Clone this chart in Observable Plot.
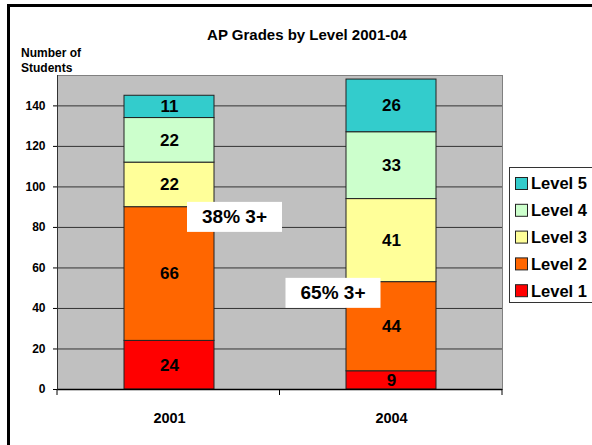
<!DOCTYPE html>
<html>
<head>
<meta charset="utf-8">
<script src="https://cdn.jsdelivr.net/npm/d3@7"></script>
<script src="https://cdn.jsdelivr.net/npm/@observablehq/plot@0.6"></script>
<style>
  html, body { margin: 0; padding: 0; background: white; }
  svg text { font-weight: bold; }
</style>
</head>
<body>
<div id="chart"></div>
<script>
// ---- data ----
const years = ["2001", "2004"];
const levels = ["Level 1", "Level 2", "Level 3", "Level 4", "Level 5"];
const levelColors = ["#ff0000", "#ff6600", "#ffff99", "#ccffcc", "#33cccc"];
const counts2001 = [24, 66, 22, 22, 11];
const counts2004 = [9, 44, 41, 33, 26];
const yTicks = [0, 20, 40, 60, 80, 100, 120, 140];
const chartTitle = "AP Grades by Level 2001-04";
const yTitle = ["Number of", "Students"];
const annoText = ["38% 3+", "65% 3+"];
const annoX = ["2001", "2004"];
const annoY = [85, 47.5];
const annoDx = [65, -58.5];

const countsByYear = [counts2001, counts2004];
const data = years.flatMap((yr, i) =>
  levels.map((lv, j) => ({year: yr, level: lv, value: countsByYear[i][j]})));

const W = 592, H = 445;
const font = "'Liberation Sans', Arial, Helvetica, sans-serif";

const plot = Plot.plot({
  width: W, height: H,
  marginLeft: 57, marginRight: 90, marginTop: 75, marginBottom: 56,
  style: {fontFamily: font, background: "white", overflow: "visible", color: "black"},
  x: {domain: years, paddingInner: 0.596, paddingOuter: 0.298, axis: null},
  y: {domain: [0, 155], axis: null},
  color: {domain: levels, range: levelColors},
  marks: [
    Plot.frame({fill: "#c0c0c0", stroke: "#808080"}),
    Plot.ruleY(yTicks.filter(d => d > 0), {stroke: "#333", strokeWidth: 1}),
    Plot.barY(data, {x: "year", y: "value", fill: "level", stroke: "#222", strokeWidth: 1}),
    Plot.text(data, Plot.stackY({x: "year", y: "value", z: "level", text: d => String(d.value), fontSize: 17, fill: "black"})),
    Plot.ruleY([0], {stroke: "black", strokeWidth: 1.5}),
    Plot.frame({anchor: "left", stroke: "#333"}),
    Plot.axisY({ticks: yTicks, tickSize: 4, tickPadding: 8, fontSize: 12, label: null, stroke: "black"}),
    Plot.axisX({tickSize: 0, tickPadding: 23, fontSize: 14.5, label: null}),
    ...annoText.map((t, i) => Plot.text([i], {
      x: () => annoX[i], y: () => annoY[i], text: () => t,
      dx: annoDx[i], fontSize: 19, fill: "black"
    }))
  ]
});

document.getElementById("chart").appendChild(plot);
const svg = d3.select(plot);

// white boxes behind annotations
svg.selectAll("text").filter(function() { return annoText.includes(this.textContent); }).each(function() {
  const b = this.getBBox();
  const m = this.getCTM && this.getCTM();
  let cx = b.x + b.width / 2, cy = b.y + b.height / 2;
  const parent = this.parentNode;
  d3.select(parent).insert("rect", () => this)
    .attr("x", cx - 47.5).attr("y", cy - 15)
    .attr("width", 95).attr("height", 30)
    .attr("fill", "white")
    .attr("transform", this.getAttribute("transform"));
});

// category-boundary ticks on the x axis
const xs = plot.scale("x");
const yS = plot.scale("y");
const x0 = xs.range[0], x1 = xs.range[1];
const y0 = yS.apply(0);
[x0, (x0 + x1) / 2, x1].forEach(x => {
  svg.append("line").attr("x1", x).attr("x2", x).attr("y1", y0).attr("y2", y0 + 6)
    .attr("stroke", "black").attr("stroke-width", 1);
});

// title
svg.append("text").attr("x", 307).attr("y", 39.5).attr("text-anchor", "middle")
  .attr("font-size", 15).attr("font-family", font).text(chartTitle);

// y-axis title
yTitle.forEach((t, i) => {
  svg.append("text").attr("x", 21).attr("y", 56.5 + i * 15.5).attr("text-anchor", "start")
    .attr("font-size", 12).attr("font-family", font).text(t);
});

// legend
const lg = svg.append("g").attr("text-anchor", "start");
lg.append("rect").attr("x", 509.5).attr("y", 167.5).attr("width", 120).attr("height", 135)
  .attr("fill", "white").attr("stroke", "#333").attr("stroke-width", 1);
const order = levels.slice().reverse();
order.forEach((lv, i) => {
  const cy = 183.5 + i * 26.8;
  lg.append("rect").attr("x", 515.5).attr("y", cy - 6).attr("width", 12).attr("height", 12)
    .attr("fill", levelColors[levels.indexOf(lv)]).attr("stroke", "#222").attr("stroke-width", 1);
  lg.append("text").attr("x", 531).attr("y", cy).attr("dy", "0.36em").attr("text-anchor", "start")
    .attr("font-size", 16.5).attr("font-family", font).text(lv);
});

// outer frame (cropped at right and bottom)
svg.append("rect").attr("x", 8.5).attr("y", 5.5).attr("width", 700).attr("height", 600)
  .attr("fill", "none").attr("stroke", "black").attr("stroke-width", 3);
</script>
</body>
</html>
